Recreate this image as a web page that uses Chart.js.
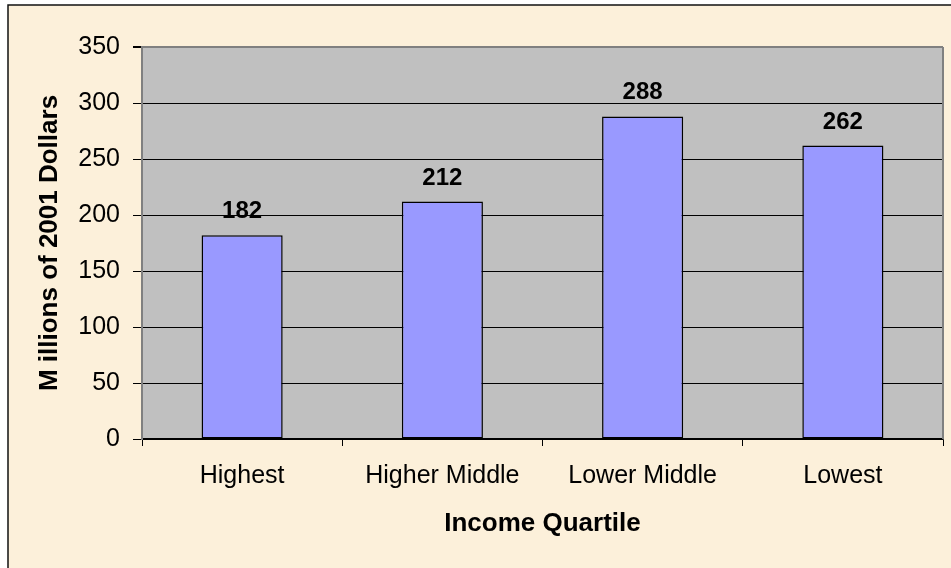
<!DOCTYPE html>
<html>
<head>
<meta charset="utf-8">
<script src="https://cdn.jsdelivr.net/npm/chart.js@4"></script>
<style>
  html, body { margin: 0; padding: 0; background: #fff; }
  #wrap { width: 951px; height: 568px; }
</style>
</head>
<body>
<div id="wrap"><canvas id="quartileChart" width="951" height="568"></canvas></div>
<script>
const quartiles = ["Highest", "Higher Middle", "Lower Middle", "Lowest"];
const spending = [182, 212, 288, 262];
const yTicks = [0, 50, 100, 150, 200, 250, 300, 350];

const fontFamily = "'Liberation Sans', Arial, sans-serif";

// page background, outer frame and grey plot area
const backdrop = {
  id: "backdrop",
  beforeDraw(chart) {
    const ctx = chart.ctx;
    const a = chart.chartArea;
    ctx.save();
    ctx.fillStyle = "#fff";
    ctx.fillRect(0, 0, chart.width, chart.height);
    ctx.fillStyle = "#fcf0da";
    ctx.fillRect(8, 5, chart.width, chart.height);
    ctx.strokeStyle = "#111";
    ctx.lineWidth = 1.5;
    ctx.strokeRect(8, 5, chart.width + 20, chart.height + 20);
    ctx.fillStyle = "#c0c0c0";
    ctx.fillRect(a.left, a.top, a.right - a.left, a.bottom - a.top);
    ctx.restore();
  },
  beforeDatasetsDraw(chart) {
    const ctx = chart.ctx;
    const a = chart.chartArea;
    ctx.save();
    ctx.strokeStyle = "#808080";
    ctx.lineWidth = 2;
    ctx.beginPath();
    ctx.moveTo(a.right, a.top);
    ctx.lineTo(a.right, a.bottom);
    ctx.stroke();
    ctx.restore();
  }
};

// value labels above the bars
const barLabels = {
  id: "barLabels",
  afterDatasetsDraw(chart) {
    const ctx = chart.ctx;
    ctx.save();
    ctx.font = "bold 24px " + fontFamily;
    ctx.fillStyle = "#000";
    ctx.textAlign = "center";
    ctx.textBaseline = "alphabetic";
    chart.getDatasetMeta(0).data.forEach((bar, i) => {
      ctx.fillText(String(spending[i]), bar.x, bar.y - 17);
    });
    ctx.restore();
  }
};

new Chart(document.getElementById("quartileChart"), {
  type: "bar",
  data: {
    labels: quartiles,
    datasets: [{
      data: spending,
      backgroundColor: "#9999ff",
      borderColor: "#000",
      borderWidth: 1.5,
      borderSkipped: false,
      categoryPercentage: 1,
      barPercentage: 0.405
    }]
  },
  options: {
    responsive: false,
    animation: false,
    layout: { padding: { left: 0, top: 47, right: 8, bottom: 0 } },
    plugins: { legend: { display: false }, tooltip: { enabled: false } },
    scales: {
      x: {
        offset: true,
        afterFit(scale) { scale.height = 129; },
        grid: {
          offset: true,
          drawOnChartArea: false,
          drawTicks: true,
          tickLength: 7,
          tickColor: "#000"
        },
        border: { display: true, color: "#000", width: 1.5 },
        ticks: {
          color: "#000",
          padding: 15,
          font: { family: fontFamily, size: 25 },
          maxRotation: 0
        },
        title: {
          display: true,
          text: "Income Quartile",
          color: "#000",
          font: { family: fontFamily, size: 26, weight: "bold" },
          padding: { top: 0, bottom: 29 }
        }
      },
      y: {
        min: 0,
        max: 350,
        afterFit(scale) { scale.width = 142; },
        afterBuildTicks(scale) { scale.ticks = yTicks.map(v => ({ value: v })); },
        grid: {
          color: c => (c.tick && c.tick.value === 350 ? "#808080" : "#000"),
          lineWidth: c => (c.tick && c.tick.value === 350 ? 2 : 1),
          tickColor: "#000",
          tickLength: 9
        },
        border: { display: true, color: "#808080", width: 2 },
        ticks: {
          color: "#000",
          padding: 13,
          font: { family: fontFamily, size: 25 }
        },
        title: {
          display: true,
          text: "M illions of 2001 Dollars",
          color: "#000",
          font: { family: fontFamily, size: 26, weight: "bold" },
          padding: { top: 34, bottom: 0 }
        }
      }
    }
  },
  plugins: [backdrop, barLabels]
});
</script>
</body>
</html>
